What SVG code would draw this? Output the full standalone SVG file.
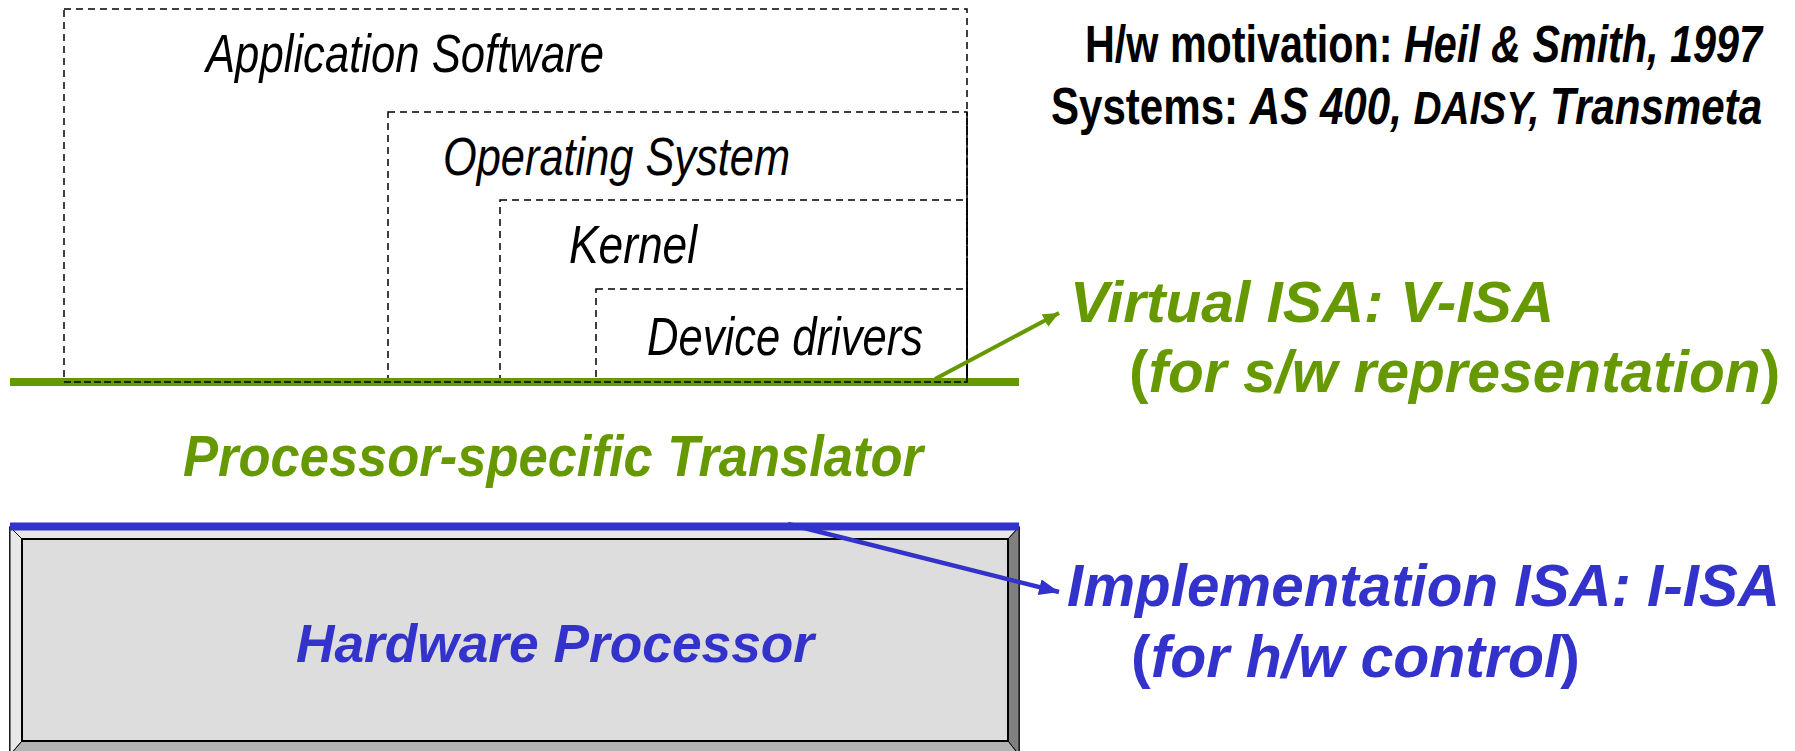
<svg xmlns="http://www.w3.org/2000/svg" width="1795" height="751" viewBox="0 0 1795 751">
<style>
.box{fill:none;stroke:#000;stroke-width:1.5;stroke-dasharray:7 5}
.lbl{font-family:"Liberation Sans",Arial,sans-serif;font-style:italic;font-size:53px;fill:#000}
.blk{font-family:"Liberation Sans",Arial,sans-serif;font-weight:bold;font-size:51px;fill:#000}
.it{font-style:italic}
.sm{font-size:47px}
.grn{font-family:"Liberation Sans",Arial,sans-serif;font-weight:bold;font-style:italic;fill:#669900}
.blu{font-family:"Liberation Sans",Arial,sans-serif;font-weight:bold;font-style:italic;fill:#3333CC}
.up{font-style:normal}
</style>
<defs>
<marker id="ag" markerUnits="userSpaceOnUse" markerWidth="18" markerHeight="16" refX="16" refY="7" orient="auto"><path d="M0,0 L16,7 L0,14 Z" fill="#669900"/></marker>
<marker id="ab" markerUnits="userSpaceOnUse" markerWidth="22" markerHeight="18" refX="20" refY="8" orient="auto"><path d="M0,0 L20,8 L0,16 Z" fill="#3333CC"/></marker>
</defs>

<g id="hardware">
<rect x="10" y="527" width="1009" height="228" fill="#DDDDDD" stroke="#000" stroke-width="1.5"/>
<polygon points="10,527 1019,527 1008,539 22,539" fill="#E6E6E6" stroke="#000" stroke-width="1"/>
<polygon points="10,527 22,539 22,741 10,755" fill="#E8E8E8" stroke="#000" stroke-width="1"/>
<polygon points="1019,527 1008,539 1008,741 1019,755" fill="#808080" stroke="#000" stroke-width="1"/>
<polygon points="22,741 1008,741 1019,755 10,755" fill="#B3B3B3" stroke="#000" stroke-width="1"/>
<rect x="22" y="539" width="986" height="202" fill="#DDDDDD" stroke="#000" stroke-width="2"/>
<text class="blu" x="296" y="662" font-size="54" textLength="518" lengthAdjust="spacingAndGlyphs">Hardware Processor</text>
</g>

<g id="app-software">
<rect class="box" x="64" y="9" width="903" height="373"/>
<text class="lbl" x="206" y="72" textLength="398" lengthAdjust="spacingAndGlyphs">Application Software</text>
</g>
<g id="operating-system">
<rect class="box" x="388" y="112" width="579" height="270"/>
<text class="lbl" x="443" y="175" textLength="347" lengthAdjust="spacingAndGlyphs">Operating System</text>
</g>
<g id="kernel">
<rect class="box" x="500" y="200" width="467" height="182"/>
<text class="lbl" x="569" y="263" textLength="128" lengthAdjust="spacingAndGlyphs">Kernel</text>
</g>
<g id="device-drivers">
<rect class="box" x="596" y="289" width="371" height="93"/>
<text class="lbl" x="647" y="355" textLength="276" lengthAdjust="spacingAndGlyphs">Device drivers</text>
</g>

<g id="connectors">
<line x1="10" y1="382" x2="1019" y2="382" stroke="#669900" stroke-width="8"/>
<path d="M64,382 H967 V112" fill="none" stroke="#000" stroke-width="1.5" stroke-dasharray="7 3"/>
<line x1="935" y1="379" x2="1059" y2="313" stroke="#669900" stroke-width="4" marker-end="url(#ag)"/>
<line x1="10" y1="526.5" x2="1019" y2="526.5" stroke="#3333CC" stroke-width="8"/>
<line x1="788" y1="524" x2="1059" y2="592" stroke="#3333CC" stroke-width="4.5" marker-end="url(#ab)"/>
</g>

<g id="refs">
<text class="blk" transform="translate(1085,62) scale(0.81,1)" x="0" y="0">H/w motivation: <tspan class="it">Heil &amp; Smith, 1997</tspan></text>
<text class="blk" transform="translate(1051,124) scale(0.825,1)" x="0" y="0">Systems: <tspan class="it">AS 400, </tspan><tspan class="it sm">DAISY, </tspan><tspan class="it">Transmeta</tspan></text>
</g>

<g id="virtual-isa">
<text class="grn" x="1070" y="322" font-size="57" textLength="484" lengthAdjust="spacingAndGlyphs">Virtual ISA: V-ISA</text>
<text class="grn" x="1129" y="392" font-size="58.6"><tspan class="up">(</tspan>for s/w representation<tspan class="up">)</tspan></text>
</g>

<g id="translator">
<text class="grn" x="183" y="476" font-size="58" textLength="740" lengthAdjust="spacingAndGlyphs">Processor-specific Translator</text>
</g>

<g id="implementation-isa">
<text class="blu" x="1067" y="606" font-size="59" textLength="713" lengthAdjust="spacingAndGlyphs">Implementation ISA: I-ISA</text>
<text class="blu" x="1131" y="677" font-size="59"><tspan class="up">(</tspan>for h/w control<tspan class="up">)</tspan></text>
</g>
</svg>
